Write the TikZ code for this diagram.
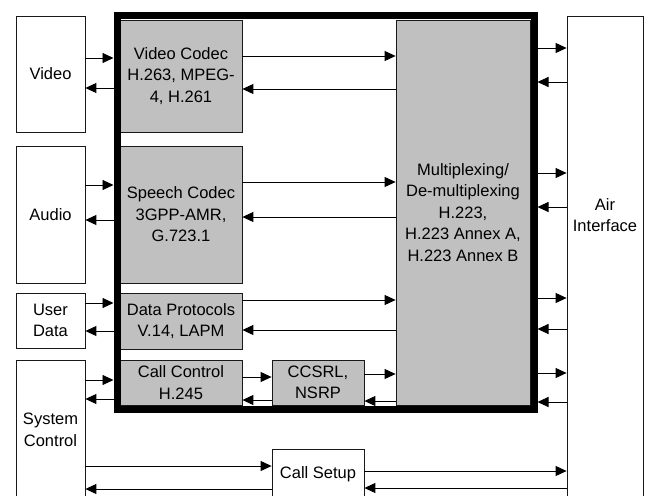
\documentclass[tikz,border=0pt]{standalone}
\usepackage{fontspec}
\setmainfont{Liberation Sans}
\usetikzlibrary{arrows.meta}
\definecolor{codecgray}{HTML}{C0C0C0}
\newcommand\boxfont{\fontsize{16.5}{21.5}\selectfont}
\tikzset{
  box/.style={draw=black!90, line width=0.8pt, inner sep=0pt, align=center, font=\boxfont},
  gbox/.style={box, fill=codecgray},
  lbl/.style={align=center, font=\boxfont, inner sep=0pt},
  arr/.style={line width=0.9pt, -{Triangle[length=11pt,width=10pt]}}
}
\begin{document}
\begin{tikzpicture}[x=1pt,y=-1pt]
\useasboundingbox (0,0) rectangle (650,495);
\clip (0,0) rectangle (650,495);
% left boxes
\node[box, minimum width=69pt, minimum height=116pt] (video) at (50.5,74) {Video};
\node[box, minimum width=69pt, minimum height=137pt] (audio) at (50.5,214.5) {Audio};
\node[box, minimum width=69pt, minimum height=55pt] (user) at (50.5,320.5) {User\\Data};
\node[box, minimum width=69pt, minimum height=150pt] (sys) at (50.5,435) {};
\node[lbl] (syslbl) at (50.5,430) {System\\Control};
% right box
\node[box, minimum width=76pt, minimum height=500pt] (air) at (605,266) {};
\node[lbl] (airlbl) at (605,215) {Air\\Interface};
% grey boxes
\node[gbox, minimum width=122pt, minimum height=112pt] (vcodec) at (181,76) {Video Codec\\H.263, MPEG-\\4, H.261};
\node[gbox, minimum width=122pt, minimum height=137pt] (scodec) at (181,214.5) {Speech Codec\\3GPP-AMR,\\G.723.1};
\node[gbox, minimum width=122pt, minimum height=56pt] (data) at (181,321) {Data Protocols\\V.14, LAPM};
\node[gbox, minimum width=122pt, minimum height=45pt] (cc) at (181,382.5) {Call Control\\H.245};
\node[gbox, minimum width=92pt, minimum height=45pt] (ccsrl) at (318,382.5) {CCSRL,\\NSRP};
\node[gbox, minimum width=134pt, minimum height=385pt] (mux) at (463,212.5) {Multiplexing/\\De-multiplexing\\H.223,\\H.223 Annex A,\\H.223 Annex B};
\node[box, minimum width=92pt, minimum height=50pt] (setup) at (318,474) {Call Setup};
% thick frame
\node[draw, line width=7pt, minimum width=417pt, minimum height=393pt, inner sep=0pt] (frame) at (325.5,212.5) {};
% left arrows
\draw[arr] (video.east |- 0,58) -- (frame.west |- 0,58);
\draw[arr] (frame.west |- 0,88) -- (video.east |- 0,88);
\draw[arr] (audio.east |- 0,185) -- (frame.west |- 0,185);
\draw[arr] (frame.west |- 0,220) -- (audio.east |- 0,220);
\draw[arr] (user.east |- 0,303) -- (frame.west |- 0,303);
\draw[arr] (frame.west |- 0,331) -- (user.east |- 0,331);
\draw[arr] (sys.east |- 0,380) -- (frame.west |- 0,380);
\draw[arr] (frame.west |- 0,399) -- (sys.east |- 0,399);
% codec to mux
\draw[arr] (vcodec.east |- 0,56) -- (mux.west |- 0,56);
\draw[arr] (mux.west |- 0,89) -- (vcodec.east |- 0,89);
\draw[arr] (scodec.east |- 0,182) -- (mux.west |- 0,182);
\draw[arr] (mux.west |- 0,217) -- (scodec.east |- 0,217);
\draw[arr] (data.east |- 0,300) -- (mux.west |- 0,300);
\draw[arr] (mux.west |- 0,330) -- (data.east |- 0,330);
\draw[arr] (cc.east |- 0,377) -- (ccsrl.west |- 0,377);
\draw[arr] (ccsrl.west |- 0,400) -- (cc.east |- 0,400);
\draw[arr] (ccsrl.east |- 0,374) -- (mux.west |- 0,374);
\draw[arr] (mux.west |- 0,401) -- (ccsrl.east |- 0,401);
% mux to air
\draw[arr] (frame.east |- 0,48) -- (air.west |- 0,48);
\draw[arr] (air.west |- 0,82) -- (frame.east |- 0,82);
\draw[arr] (frame.east |- 0,173) -- (air.west |- 0,173);
\draw[arr] (air.west |- 0,207) -- (frame.east |- 0,207);
\draw[arr] (frame.east |- 0,298) -- (air.west |- 0,298);
\draw[arr] (air.west |- 0,329) -- (frame.east |- 0,329);
\draw[arr] (frame.east |- 0,373) -- (air.west |- 0,373);
\draw[arr] (air.west |- 0,402) -- (frame.east |- 0,402);
% call setup
\draw[arr] (sys.east |- 0,466) -- (setup.west |- 0,466);
\draw[arr] (setup.west |- 0,489) -- (sys.east |- 0,489);
\draw[arr] (setup.east |- 0,471) -- (air.west |- 0,471);
\draw[arr] (air.west |- 0,488) -- (setup.east |- 0,488);
\end{tikzpicture}
\end{document}
